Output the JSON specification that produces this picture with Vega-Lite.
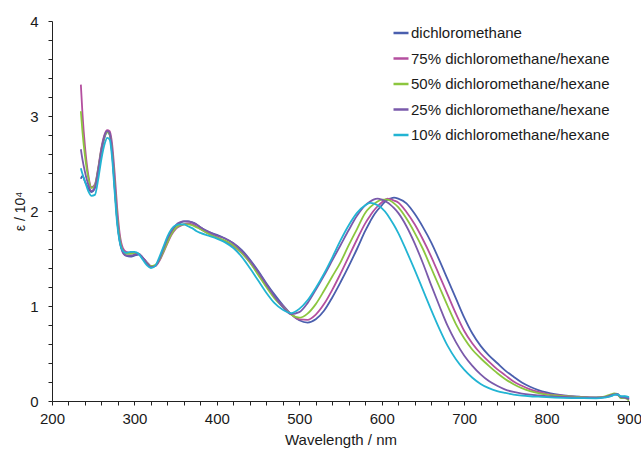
{
  "$schema": "https://vega.github.io/schema/vega-lite/v6.json",
  "width": 577,
  "height": 380,
  "autosize": "none",
  "padding": {"left": 52, "top": 21, "right": 12, "bottom": 50},
  "background": "white",
  "config": {
    "view": {"stroke": null},
    "font": "Liberation Sans",
    "axis": {"grid": false, "domainColor": "#222222", "tickColor": "#222222", "tickWidth": 1, "labelColor": "#1a1a1a", "titleColor": "#1a1a1a", "labelFont": "Liberation Sans", "titleFont": "Liberation Sans", "titleFontWeight": "normal"}
  },
  "data": {
    "values": [
      {"nm":235,"d":2.34,"m75":3.33,"m50":3.05,"m25":2.65,"m10":2.45},
      {"nm":237,"d":2.37,"m75":3.02,"m50":2.83,"m25":2.54,"m10":2.39},
      {"nm":240,"d":2.31,"m75":2.68,"m50":2.58,"m25":2.41,"m10":2.31},
      {"nm":244,"d":2.24,"m75":2.38,"m50":2.35,"m25":2.28,"m10":2.21},
      {"nm":248,"d":2.20,"m75":2.25,"m50":2.24,"m25":2.21,"m10":2.16},
      {"nm":252,"d":2.24,"m75":2.28,"m50":2.27,"m25":2.25,"m10":2.17},
      {"nm":256,"d":2.42,"m75":2.45,"m50":2.44,"m25":2.43,"m10":2.33},
      {"nm":260,"d":2.63,"m75":2.67,"m50":2.65,"m25":2.65,"m10":2.55},
      {"nm":264,"d":2.78,"m75":2.81,"m50":2.79,"m25":2.80,"m10":2.71},
      {"nm":267,"d":2.83,"m75":2.85,"m50":2.83,"m25":2.84,"m10":2.77},
      {"nm":270,"d":2.80,"m75":2.84,"m50":2.81,"m25":2.82,"m10":2.75},
      {"nm":273,"d":2.60,"m75":2.70,"m50":2.63,"m25":2.62,"m10":2.55},
      {"nm":276,"d":2.25,"m75":2.40,"m50":2.30,"m25":2.27,"m10":2.20},
      {"nm":279,"d":1.92,"m75":2.04,"m50":1.95,"m25":1.91,"m10":1.87},
      {"nm":282,"d":1.70,"m75":1.77,"m50":1.72,"m25":1.69,"m10":1.68},
      {"nm":286,"d":1.57,"m75":1.61,"m50":1.58,"m25":1.56,"m10":1.58},
      {"nm":290,"d":1.53,"m75":1.57,"m50":1.55,"m25":1.53,"m10":1.56},
      {"nm":295,"d":1.52,"m75":1.56,"m50":1.55,"m25":1.53,"m10":1.57},
      {"nm":300,"d":1.53,"m75":1.56,"m50":1.56,"m25":1.54,"m10":1.57},
      {"nm":305,"d":1.54,"m75":1.55,"m50":1.55,"m25":1.55,"m10":1.55},
      {"nm":310,"d":1.51,"m75":1.51,"m50":1.50,"m25":1.51,"m10":1.49},
      {"nm":315,"d":1.46,"m75":1.46,"m50":1.45,"m25":1.45,"m10":1.43},
      {"nm":320,"d":1.42,"m75":1.42,"m50":1.42,"m25":1.41,"m10":1.40},
      {"nm":325,"d":1.42,"m75":1.42,"m50":1.43,"m25":1.42,"m10":1.42},
      {"nm":330,"d":1.48,"m75":1.47,"m50":1.48,"m25":1.49,"m10":1.51},
      {"nm":335,"d":1.58,"m75":1.56,"m50":1.57,"m25":1.60,"m10":1.62},
      {"nm":340,"d":1.69,"m75":1.66,"m50":1.67,"m25":1.71,"m10":1.73},
      {"nm":345,"d":1.78,"m75":1.75,"m50":1.76,"m25":1.79,"m10":1.81},
      {"nm":350,"d":1.84,"m75":1.81,"m50":1.82,"m25":1.85,"m10":1.85},
      {"nm":355,"d":1.87,"m75":1.84,"m50":1.85,"m25":1.88,"m10":1.86},
      {"nm":360,"d":1.89,"m75":1.86,"m50":1.86,"m25":1.89,"m10":1.86},
      {"nm":365,"d":1.89,"m75":1.87,"m50":1.86,"m25":1.89,"m10":1.84},
      {"nm":370,"d":1.88,"m75":1.86,"m50":1.85,"m25":1.88,"m10":1.82},
      {"nm":375,"d":1.86,"m75":1.84,"m50":1.83,"m25":1.86,"m10":1.79},
      {"nm":380,"d":1.83,"m75":1.81,"m50":1.81,"m25":1.83,"m10":1.77},
      {"nm":390,"d":1.78,"m75":1.76,"m50":1.76,"m25":1.78,"m10":1.74},
      {"nm":400,"d":1.75,"m75":1.72,"m50":1.72,"m25":1.74,"m10":1.71},
      {"nm":410,"d":1.71,"m75":1.68,"m50":1.69,"m25":1.71,"m10":1.67},
      {"nm":420,"d":1.66,"m75":1.63,"m50":1.64,"m25":1.66,"m10":1.61},
      {"nm":430,"d":1.59,"m75":1.56,"m50":1.56,"m25":1.58,"m10":1.52},
      {"nm":440,"d":1.49,"m75":1.46,"m50":1.46,"m25":1.48,"m10":1.40},
      {"nm":450,"d":1.37,"m75":1.34,"m50":1.33,"m25":1.36,"m10":1.27},
      {"nm":460,"d":1.24,"m75":1.21,"m50":1.20,"m25":1.23,"m10":1.14},
      {"nm":470,"d":1.12,"m75":1.09,"m50":1.08,"m25":1.10,"m10":1.03},
      {"nm":480,"d":1.01,"m75":1.00,"m50":0.99,"m25":0.99,"m10":0.96},
      {"nm":490,"d":0.915,"m75":0.915,"m50":0.91,"m25":0.915,"m10":0.925},
      {"nm":500,"d":0.85,"m75":0.86,"m50":0.877,"m25":0.935,"m10":0.97},
      {"nm":510,"d":0.825,"m75":0.855,"m50":0.92,"m25":1.03,"m10":1.06},
      {"nm":520,"d":0.86,"m75":0.91,"m50":1.02,"m25":1.17,"m10":1.19},
      {"nm":530,"d":0.95,"m75":1.02,"m50":1.16,"m25":1.32,"m10":1.34},
      {"nm":540,"d":1.09,"m75":1.17,"m50":1.31,"m25":1.48,"m10":1.51},
      {"nm":550,"d":1.25,"m75":1.34,"m50":1.46,"m25":1.64,"m10":1.69},
      {"nm":560,"d":1.42,"m75":1.52,"m50":1.64,"m25":1.80,"m10":1.85},
      {"nm":570,"d":1.60,"m75":1.70,"m50":1.81,"m25":1.95,"m10":1.98},
      {"nm":580,"d":1.79,"m75":1.87,"m50":1.98,"m25":2.06,"m10":2.06},
      {"nm":586,"d":1.89,"m75":1.95,"m50":2.04,"m25":2.10,"m10":2.085},
      {"nm":590,"d":1.95,"m75":2.00,"m50":2.07,"m25":2.12,"m10":2.08},
      {"nm":595,"d":2.01,"m75":2.05,"m50":2.10,"m25":2.13,"m10":2.06},
      {"nm":600,"d":2.06,"m75":2.09,"m50":2.12,"m25":2.12,"m10":2.03},
      {"nm":607,"d":2.12,"m75":2.13,"m50":2.12,"m25":2.09,"m10":1.96},
      {"nm":610,"d":2.13,"m75":2.125,"m50":2.11,"m25":2.07,"m10":1.92},
      {"nm":615,"d":2.14,"m75":2.11,"m50":2.08,"m25":2.03,"m10":1.85},
      {"nm":620,"d":2.13,"m75":2.09,"m50":2.04,"m25":1.98,"m10":1.77},
      {"nm":630,"d":2.08,"m75":1.99,"m50":1.92,"m25":1.84,"m10":1.58},
      {"nm":640,"d":1.97,"m75":1.86,"m50":1.77,"m25":1.66,"m10":1.38},
      {"nm":650,"d":1.83,"m75":1.70,"m50":1.60,"m25":1.45,"m10":1.17},
      {"nm":660,"d":1.67,"m75":1.52,"m50":1.40,"m25":1.22,"m10":0.96},
      {"nm":670,"d":1.48,"m75":1.32,"m50":1.20,"m25":1.00,"m10":0.76},
      {"nm":680,"d":1.28,"m75":1.12,"m50":1.00,"m25":0.79,"m10":0.58},
      {"nm":690,"d":1.08,"m75":0.92,"m50":0.81,"m25":0.62,"m10":0.44},
      {"nm":700,"d":0.88,"m75":0.74,"m50":0.66,"m25":0.48,"m10":0.33},
      {"nm":710,"d":0.71,"m75":0.605,"m50":0.54,"m25":0.37,"m10":0.245},
      {"nm":720,"d":0.58,"m75":0.50,"m50":0.45,"m25":0.28,"m10":0.18},
      {"nm":730,"d":0.48,"m75":0.415,"m50":0.37,"m25":0.21,"m10":0.135},
      {"nm":740,"d":0.40,"m75":0.335,"m50":0.295,"m25":0.16,"m10":0.105},
      {"nm":750,"d":0.32,"m75":0.27,"m50":0.23,"m25":0.12,"m10":0.085},
      {"nm":760,"d":0.255,"m75":0.205,"m50":0.177,"m25":0.095,"m10":0.068},
      {"nm":770,"d":0.195,"m75":0.16,"m50":0.135,"m25":0.078,"m10":0.057},
      {"nm":780,"d":0.15,"m75":0.122,"m50":0.105,"m25":0.066,"m10":0.05},
      {"nm":790,"d":0.115,"m75":0.095,"m50":0.083,"m25":0.058,"m10":0.045},
      {"nm":800,"d":0.09,"m75":0.075,"m50":0.068,"m25":0.05,"m10":0.04},
      {"nm":810,"d":0.072,"m75":0.064,"m50":0.058,"m25":0.046,"m10":0.036},
      {"nm":820,"d":0.06,"m75":0.056,"m50":0.052,"m25":0.042,"m10":0.033},
      {"nm":840,"d":0.045,"m75":0.042,"m50":0.04,"m25":0.036,"m10":0.03},
      {"nm":860,"d":0.037,"m75":0.035,"m50":0.034,"m25":0.032,"m10":0.028},
      {"nm":870,"d":0.04,"m75":0.04,"m50":0.045,"m25":0.04,"m10":0.035},
      {"nm":878,"d":0.05,"m75":0.055,"m50":0.07,"m25":0.06,"m10":0.05},
      {"nm":882,"d":0.07,"m75":0.075,"m50":0.08,"m25":0.07,"m10":0.065},
      {"nm":886,"d":0.065,"m75":0.07,"m50":0.075,"m25":0.075,"m10":0.07},
      {"nm":890,"d":0.04,"m75":0.045,"m50":0.03,"m25":0.04,"m10":0.05},
      {"nm":895,"d":0.045,"m75":0.04,"m50":0.03,"m25":0.035,"m10":0.05},
      {"nm":900,"d":0.03,"m75":0.02,"m50":0.005,"m25":0.02,"m10":0.04}
    ]
  },
  "transform": [
    {"fold": ["d", "m75", "m50", "m25", "m10"], "as": ["solvent", "eps"]}
  ],
  "mark": {"type": "line", "interpolate": "monotone", "strokeWidth": 1.8},
  "encoding": {
    "x": {
      "field": "nm", "type": "quantitative",
      "scale": {"domain": [200, 900], "nice": false, "zero": false},
      "axis": {
        "title": "Wavelength / nm",
        "values": [200,220,240,260,280,300,320,340,360,380,400,420,440,460,480,500,520,540,560,580,600,620,640,660,680,700,720,740,760,780,800,820,840,860,880,900],
        "labelExpr": "datum.value % 100 === 0 ? format(datum.value, 'd') : ''",
        "labelOverlap": false,
        "labelFlush": false,
        "tickSize": 4,
        "labelPadding": 6,
        "labelFontSize": 15,
        "titleFontSize": 15,
        "titlePadding": 6
      }
    },
    "y": {
      "field": "eps", "type": "quantitative",
      "scale": {"domain": [0, 4], "nice": false},
      "axis": {
        "title": "ε / 10⁴",
        "values": [0,0.2,0.4,0.6,0.8,1,1.2,1.4,1.6,1.8,2,2.2,2.4,2.6,2.8,3,3.2,3.4,3.6,3.8,4],
        "labelExpr": "datum.value % 1 === 0 ? format(datum.value, 'd') : ''",
        "labelOverlap": false,
        "labelFlush": false,
        "tickSize": 4,
        "labelPadding": 10,
        "labelFontSize": 15,
        "titleFontSize": 14,
        "titlePadding": 2
      }
    },
    "color": {
      "field": "solvent", "type": "nominal",
      "scale": {"domain": ["d", "m75", "m50", "m25", "m10"], "range": ["#4a5fae", "#b44f9f", "#8cc63f", "#7a5aab", "#22b4d3"]},
      "legend": {
        "title": null,
        "orient": "none",
        "legendX": 340,
        "legendY": 3,
        "symbolType": "stroke",
        "symbolSize": 225,
        "symbolStrokeWidth": 2.5,
        "labelOffset": 1,
        "labelFontSize": 15,
        "labelLimit": 0,
        "labelFont": "Liberation Sans",
        "labelColor": "#1a1a1a",
        "rowPadding": 8.5,
        "padding": 0,
        "labelExpr": "{'d':'dichloromethane','m75':'75% dichloromethane/hexane','m50':'50% dichloromethane/hexane','m25':'25% dichloromethane/hexane','m10':'10% dichloromethane/hexane'}[datum.label]"
      }
    }
  }
}
